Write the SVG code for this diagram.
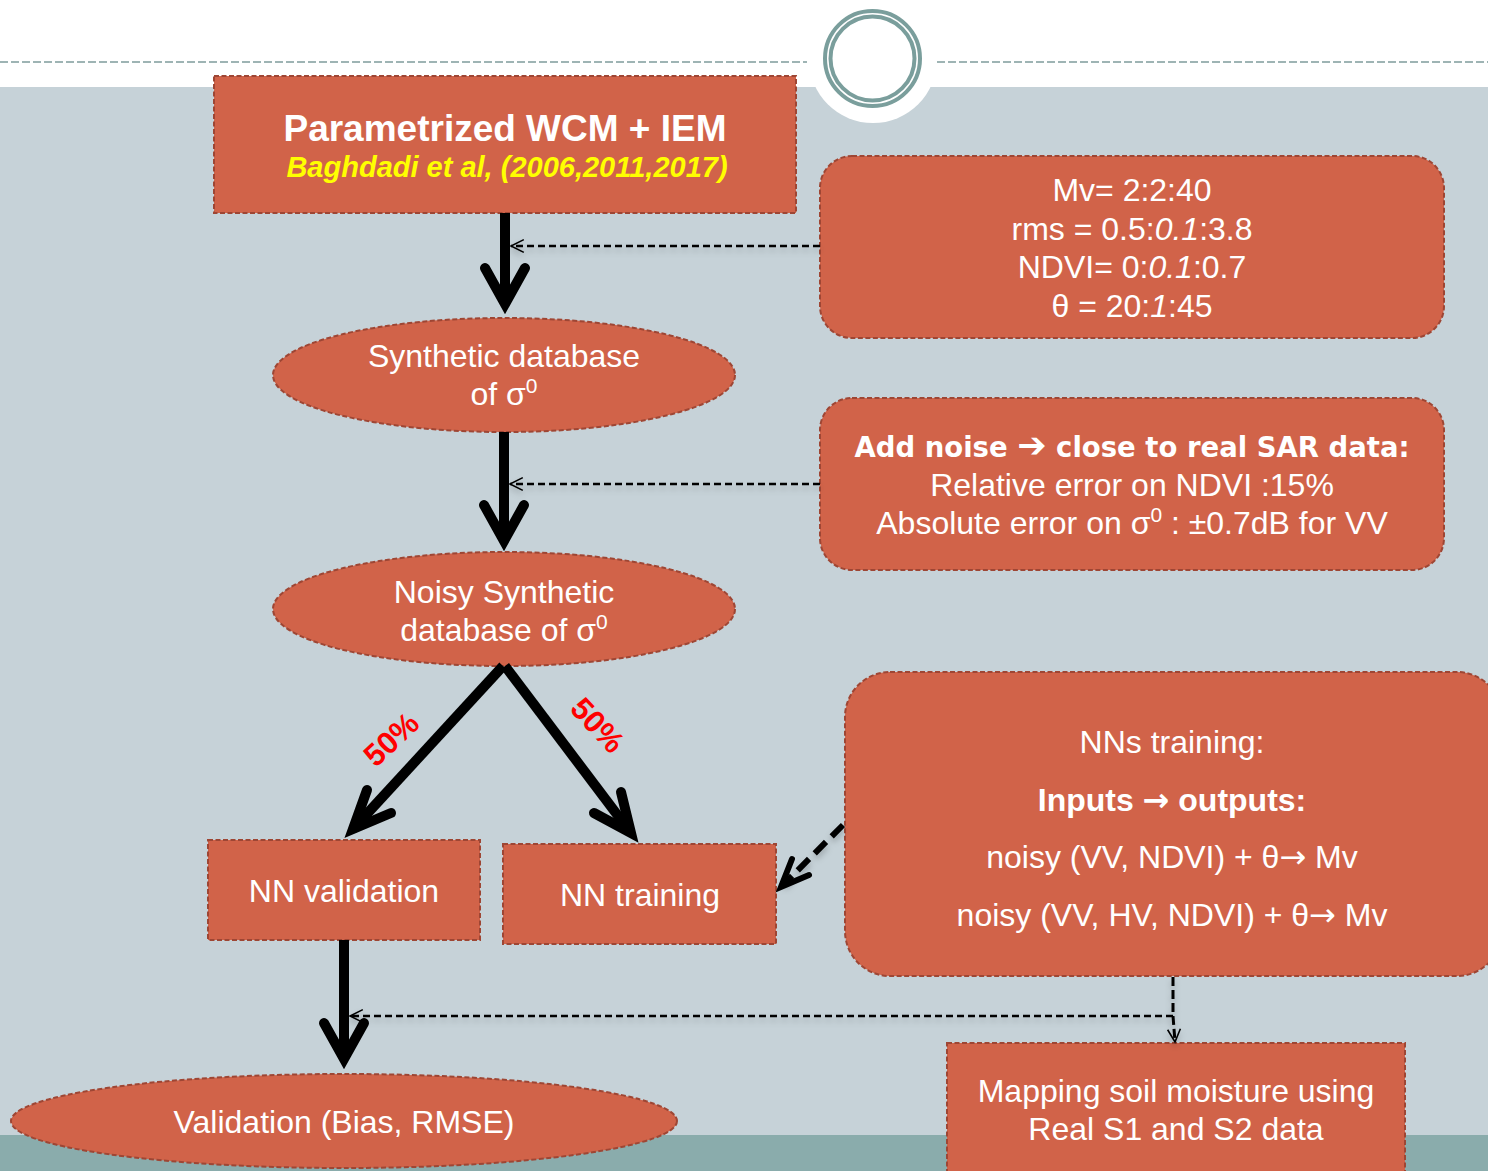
<svg xmlns="http://www.w3.org/2000/svg" width="1488" height="1171" viewBox="0 0 1488 1171">
<defs>
<style>
.node{fill:#D16349;stroke:#9E4634;stroke-width:2;stroke-dasharray:5 2.5}
.t{font-family:"Liberation Sans",Arial,sans-serif;font-size:32px;fill:#FFFFFF;text-anchor:middle}
.b{font-weight:bold}
.sup{font-size:21px}
.arr{font-family:"DejaVu Sans",sans-serif}
.red{font-family:"Liberation Sans",Arial,sans-serif;font-size:31px;font-weight:bold;fill:#FF0000;text-anchor:middle}
.shaft{fill:none;stroke:#000;stroke-width:10;stroke-linecap:butt}
.head{fill:none;stroke:#000;stroke-width:10;stroke-linecap:round;stroke-linejoin:miter;stroke-miterlimit:6}
.dash{fill:none;stroke:#000;stroke-width:2.5;stroke-dasharray:7 4}
.ring{fill:none;stroke:#7A9E9C;stroke-width:4}
</style>
<marker id="open" viewBox="0 0 20 20" refX="18" refY="10" markerWidth="16" markerHeight="16" markerUnits="userSpaceOnUse" orient="auto">
<path d="M2 2 L18 10 L2 18" fill="none" stroke="#000" stroke-width="2"/>
</marker>
<filter id="sh" filterUnits="userSpaceOnUse" x="0" y="0" width="1488" height="1171">
<feDropShadow dx="0" dy="4" stdDeviation="3" flood-color="#000" flood-opacity="0.22"/>
</filter>
</defs>

<g id="background">
<rect x="0" y="0" width="1488" height="1171" fill="#FFFFFF"/>
<rect x="0" y="87" width="1488" height="1048" fill="#C6D2D8"/>
<rect x="0" y="1135" width="1488" height="36" fill="#8AACAC"/>
<line x1="0" y1="62" x2="807" y2="62" stroke="#7F9C9C" stroke-width="1.5" stroke-dasharray="8 3"/>
<line x1="937" y1="62" x2="1488" y2="62" stroke="#7F9C9C" stroke-width="1.5" stroke-dasharray="8 3"/>
<circle cx="873" cy="59" r="64" fill="#FFFFFF"/>
<circle class="ring" cx="872.5" cy="58.5" r="47.5"/>
<circle class="ring" cx="872.5" cy="58.5" r="42"/>
</g>

<g id="node-wcm">
<rect class="node" x="214" y="76" width="582" height="137"/>
<text class="t b" x="505" y="141" style="font-size:37px">Parametrized WCM + IEM</text>
<text class="t b" x="507" y="177" style="font-size:29px;font-style:italic;fill:#FFFF00">Baghdadi et al, (2006,2011,2017)</text>
</g>

<g id="node-params">
<rect class="node" x="820" y="156" width="624" height="182" rx="32" ry="32"/>
<text class="t" x="1132" y="201">Mv= 2:2:40</text>
<text class="t" x="1132" y="240">rms = 0.5:<tspan font-style="italic">0.1</tspan>:3.8</text>
<text class="t" x="1132" y="278">NDVI= 0:<tspan font-style="italic">0.1</tspan>:0.7</text>
<text class="t" x="1132" y="317">θ = 20:<tspan font-style="italic">1</tspan>:45</text>
</g>

<g id="node-synthetic">
<ellipse class="node" cx="504" cy="375" rx="231" ry="57"/>
<text class="t" x="504" y="367">Synthetic database</text>
<text class="t" x="504" y="405">of σ<tspan class="sup" dy="-12">0</tspan></text>
</g>

<g id="node-noise">
<rect class="node" x="820" y="398" width="624" height="172" rx="32" ry="32"/>
<text class="t b" x="1132" y="457" style="font-family:'DejaVu Sans',sans-serif;font-size:27.5px">Add noise <tspan style="font-size:35px">➔</tspan> close to real SAR data:</text>
<text class="t" x="1132" y="496">Relative error on NDVI :15%</text>
<text class="t" x="1132" y="534">Absolute error on σ<tspan class="sup" dy="-12">0</tspan><tspan dy="12"> : ±0.7dB for VV</tspan></text>
</g>

<g id="node-noisy">
<ellipse class="node" cx="504" cy="609" rx="231" ry="57"/>
<text class="t" x="504" y="603">Noisy Synthetic</text>
<text class="t" x="504" y="641">database of σ<tspan class="sup" dy="-12">0</tspan></text>
</g>

<g id="node-nnval">
<rect class="node" x="208" y="840" width="272" height="100"/>
<text class="t" x="344" y="902">NN validation</text>
</g>

<g id="node-nntrain">
<rect class="node" x="503" y="844" width="273" height="100"/>
<text class="t" x="640" y="906">NN training</text>
</g>

<g id="node-nns">
<rect class="node" x="845" y="672" width="657" height="304" rx="45" ry="45"/>
<text class="t" x="1172" y="753">NNs training:</text>
<text class="t b" x="1172" y="811">Inputs <tspan class="arr">→</tspan> outputs:</text>
<text class="t" x="1172" y="868">noisy (VV, NDVI) + θ<tspan class="arr">→</tspan> Mv</text>
<text class="t" x="1172" y="926">noisy (VV, HV, NDVI) + θ<tspan class="arr">→</tspan> Mv</text>
</g>

<g id="node-validation">
<ellipse class="node" cx="344" cy="1121" rx="333" ry="47"/>
<text class="t" x="344" y="1133">Validation (Bias, RMSE)</text>
</g>

<g id="node-mapping">
<rect class="node" x="947" y="1043" width="458" height="140"/>
<text class="t" x="1176" y="1102">Mapping soil moisture using</text>
<text class="t" x="1176" y="1140">Real S1 and S2 data</text>
</g>

<g id="connectors">
<g filter="url(#sh)">
<line class="dash" x1="820" y1="246" x2="511" y2="246" marker-end="url(#open)"/>
<line class="dash" x1="820" y1="484" x2="510" y2="484" marker-end="url(#open)"/>
<path class="dash" d="M1173 1016 H350" marker-end="url(#open)"/>
<path class="dash" d="M1173 977 V1016 L1175 1042" style="stroke-width:3;stroke-dasharray:9 4" marker-end="url(#open)"/>
</g>
<path class="shaft" d="M505 213 V304"/>
<path class="head" d="M485 268 L505 304 L525 268"/>
<path class="shaft" d="M504 432 V541"/>
<path class="head" d="M484 505 L504 541 L524 505"/>
<path class="shaft" d="M344 940 V1059"/>
<path class="head" d="M324 1023 L344 1059 L364 1023"/>
<path class="shaft" d="M353 829 L503 666"/>
<path class="head" d="M367 790 L353 829 L391 813"/>
<path class="shaft" d="M505 666 L631 833"/>
<path class="head" d="M621 792 L631 833 L594 813"/>
<path d="M843 825 L784 884" fill="none" stroke="#000" stroke-width="6" stroke-dasharray="16 8" filter="url(#sh)"/>
<path d="M792 859 L781 887 L809 875" fill="none" stroke="#000" stroke-width="6" stroke-linecap="round" stroke-linejoin="miter"/>
</g>

<g id="labels">
<text class="red" transform="translate(391,739) rotate(-43)" x="0" y="11">50%</text>
<text class="red" transform="translate(598,725) rotate(47)" x="0" y="11">50%</text>
</g>
</svg>
